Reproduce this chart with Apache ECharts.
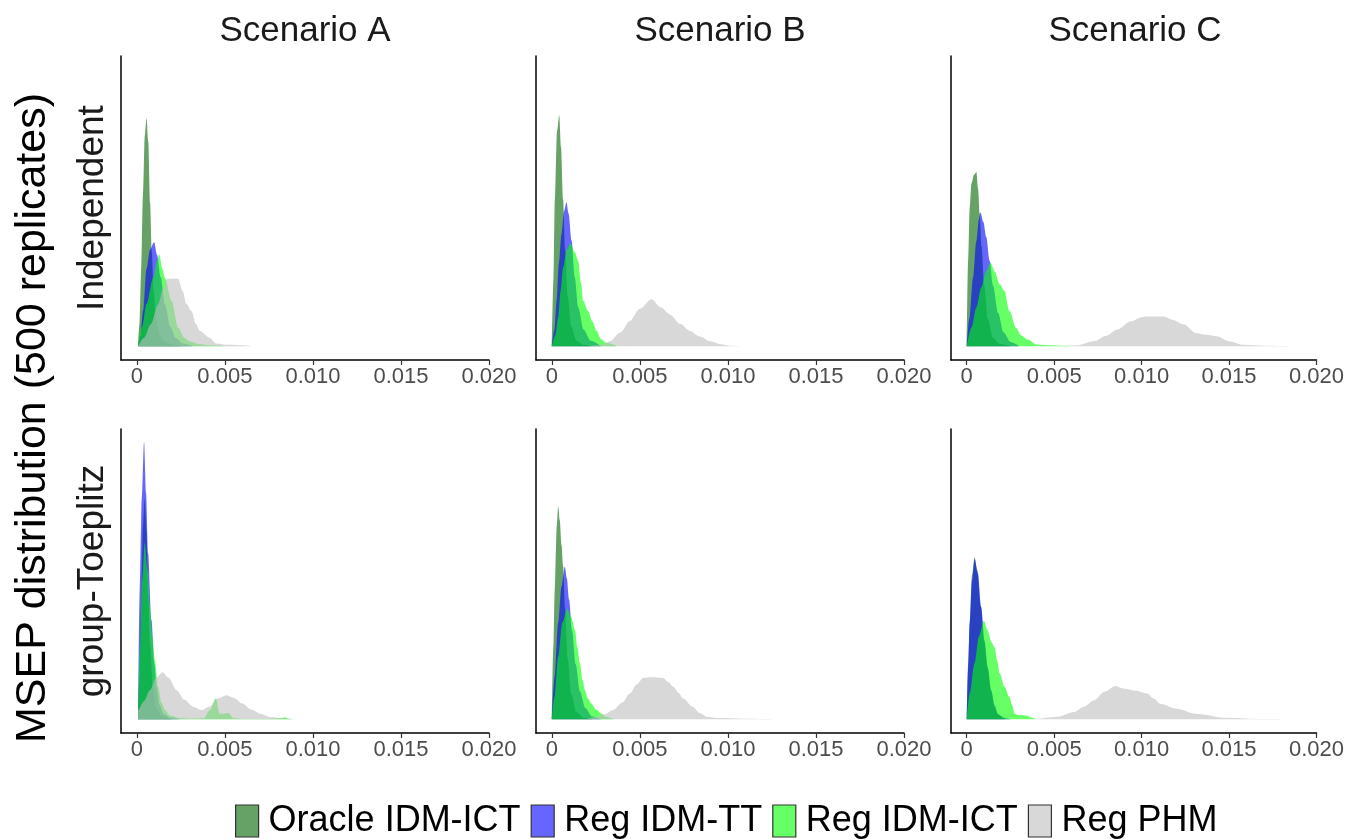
<!DOCTYPE html>
<html>
<head>
<meta charset="utf-8">
<script src="https://cdn.jsdelivr.net/npm/echarts@6/dist/echarts.min.js"></script>
<style>
  html, body { margin: 0; padding: 0; background: #fff; }
  #chart { width: 1347px; height: 839px; }
</style>
</head>
<body>
<div id="chart"></div>
<script>
// x values are MSEP in units of 0.001, y values are density (relative, shared scale)
var methods = ["Oracle IDM-ICT", "Reg IDM-TT", "Reg IDM-ICT", "Reg PHM"];
var scenarios = ["Scenario A", "Scenario B", "Scenario C"];
var designs = ["Independent", "group-Toeplitz"];
var tickValues = [0, 5, 10, 15, 20];
var tickLabels = ["0", "0.005", "0.010", "0.015", "0.020"];

// Independent, Scenario A
var indAOracle = [[0.07,0],[0.15,8],[0.25,28],[0.35,55],[0.45,76],[0.55,82.5],[0.65,74],[0.75,52],[0.85,34],[0.95,20],[1.1,9],[1.3,4],[1.6,1.5],[2.0,0.5],[2.5,0]];
var indATT = [[0.07,0],[0.2,4],[0.36,13],[0.55,28],[0.75,35],[0.98,37.6],[1.15,33],[1.35,25],[1.6,15],[1.9,7],[2.2,3],[2.6,1],[3.2,0]];
var indAICT = [[0.07,0],[0.3,7],[0.55,15.3],[0.93,24.8],[1.15,31],[1.27,33.3],[1.45,28],[1.59,24.8],[1.97,16.4],[2.35,6.7],[2.7,3],[3.0,1.8],[3.5,0.8],[4.15,0.3],[5,0]];
var indAPHM = [[0.07,0],[0.4,3],[0.8,8],[1.2,15],[1.5,21],[1.7,24.4],[2.0,24.4],[2.35,24.4],[2.6,20],[2.82,15.3],[3.1,12.7],[3.35,8],[3.58,5.5],[4.15,3],[4.5,1],[5.2,0.5],[6.0,0.3],[6.5,0]];

// Independent, Scenario B
var indBOracle = [[0,0],[0.1,25],[0.17,52.7],[0.3,78],[0.42,83.6],[0.52,72],[0.64,53],[0.75,35],[0.9,18],[1.1,7],[1.4,2],[1.8,0.5],[2.2,0]];
var indBTT = [[0,0],[0.15,6],[0.27,16.4],[0.4,30],[0.55,40.6],[0.7,49],[0.83,52.1],[0.95,48],[1.12,38.2],[1.3,25],[1.5,14],[1.8,6],[2.2,2],[2.8,0]];
var indBICT = [[0,0],[0.2,4],[0.36,10.3],[0.5,20],[0.64,28.5],[0.85,35],[1.06,37.2],[1.3,34],[1.5,30.9],[1.65,23],[1.78,16.4],[2.06,12.7],[2.3,9],[2.54,5.5],[2.8,2.5],[3.1,1.2],[3.7,0]];
var indBPHM = [[2.0,0],[2.6,0.3],[3.0,1],[3.3,1.8],[3.9,5],[4.43,9.1],[5.0,13.5],[5.66,17],[6.2,14],[6.7,11.5],[7.3,8],[7.84,5.5],[8.4,3.5],[9.0,1.8],[9.6,0.7],[10.1,0.2],[10.8,0]];

// Independent, Scenario C
var indCOracle = [[0,0],[0.08,31],[0.17,50],[0.27,58.9],[0.42,62],[0.55,63],[0.65,57],[0.74,48],[0.85,36],[1.0,22],[1.2,10],[1.5,3],[1.9,0.8],[2.5,0]];
var indCTT = [[0,0],[0.15,10],[0.36,24.8],[0.55,38],[0.7,46],[0.78,48.5],[0.95,45],[1.12,39.4],[1.31,30.9],[1.5,22],[1.8,12],[2.1,5],[2.5,1.5],[3.0,0]];
var indCICT = [[0,0],[0.27,6.7],[0.55,14],[0.83,21.2],[1.1,27],[1.36,30.3],[1.6,27],[1.88,22.4],[2.16,20],[2.44,12.7],[2.82,6.7],[3.1,4],[3.48,2.4],[4.0,0.6],[4.8,0.3],[5.9,0]];
var indCPHM = [[5.5,0],[6.3,0.3],[7.27,1.8],[8.0,3.8],[8.6,6],[9.4,9],[10.0,10.5],[10.3,10.7],[11.25,10.7],[11.8,9.5],[12.4,7.9],[13.1,4.8],[13.6,4.2],[14.3,3.6],[15.0,1.8],[15.8,0.5],[17,0.2],[18.9,0]];

// group-Toeplitz, Scenario A
var gtAOracle = [[0.07,0],[0.15,15],[0.25,42],[0.35,70],[0.45,80],[0.55,68],[0.65,45],[0.75,27],[0.9,12],[1.1,4],[1.4,1],[2.0,0]];
var gtATT = [[0.07,0],[0.17,48],[0.28,80],[0.41,100.5],[0.52,82],[0.64,60],[0.83,36],[1.0,20],[1.12,11.7],[1.3,5],[1.5,2],[1.9,0.5],[2.4,0]];
var gtAICT = [[0.07,0],[0.17,24],[0.3,50],[0.45,63.9],[0.6,54],[0.74,40.8],[0.88,30],[1.02,21.5],[1.21,11.7],[1.4,6],[1.59,3.3],[1.9,1.2],[2.4,0.4],[3.0,0.2],[3.8,0.3],[4.15,3.3],[4.49,7.5],[4.7,2],[4.95,2],[5.2,2.2],[5.5,0.3],[6.0,0.1],[7.5,0.1],[8.2,0.4],[8.4,0.7],[8.6,0.2],[8.8,0]];
var gtAPHM = [[0.07,0],[0.07,3.3],[0.4,6.5],[0.74,10.5],[1.1,15],[1.46,17],[1.8,15],[2.26,10.5],[2.7,7],[3.2,4.5],[3.68,3.3],[4.1,4.5],[4.6,7.5],[5.1,8.7],[5.5,7.8],[6.0,5.7],[6.5,3.5],[7.0,2],[7.6,0.8],[8.3,0.3],[9.0,0]];

// group-Toeplitz, Scenario B
var gtBOracle = [[0,0],[0.08,25],[0.17,47],[0.28,70],[0.36,77],[0.45,72],[0.55,63],[0.64,55.4],[0.75,40],[0.9,22],[1.1,9],[1.4,2.5],[1.8,0.5],[2.3,0]];
var gtBTT = [[0,0],[0.15,15],[0.36,34.9],[0.55,48],[0.74,55.2],[0.85,51],[0.98,43.3],[1.15,32],[1.35,20],[1.6,10],[1.9,4],[2.3,1],[2.8,0]];
var gtBICT = [[0,0],[0.15,8],[0.36,22.7],[0.6,35],[0.87,40],[1.1,37],[1.31,32.4],[1.45,26],[1.59,20.3],[1.75,14],[1.88,10.5],[2.05,7.5],[2.25,5.7],[2.5,3.5],[2.82,2],[3.1,0.8],[3.5,0]];
var gtBPHM = [[2.0,0],[2.4,0.7],[3.0,1.8],[3.48,3.3],[4.0,6],[4.43,9.3],[4.8,12.5],[5.2,15],[5.7,15.2],[6.3,15],[6.6,13.5],[6.9,11.7],[7.2,9.5],[7.46,7.5],[8.0,4.5],[8.4,2.2],[8.8,0.9],[9.5,0.4],[11,0.2],[13,0]];

// group-Toeplitz, Scenario C
var gtCOracle = [[0,0],[0.08,18],[0.17,35],[0.3,52],[0.45,58.5],[0.6,54],[0.8,41],[1.0,28],[1.2,18],[1.4,10],[1.6,4],[1.8,1.5],[2.2,0]];
var gtCTT = [[0,0],[0.08,20],[0.17,34.8],[0.3,50],[0.45,58],[0.64,52.7],[0.83,40.5],[1.02,28.5],[1.2,19],[1.4,10.5],[1.6,5],[1.78,2],[2.1,0.5],[2.5,0]];
var gtCICT = [[0,0],[0.17,9.3],[0.45,20.3],[0.7,30],[0.98,35.6],[1.2,32],[1.4,28],[1.59,26],[1.75,21],[1.88,16.6],[2.16,11.7],[2.44,8],[2.6,5],[2.73,2],[3.0,1.5],[3.4,1.3],[3.7,0.5],[4.0,0]];
var gtCPHM = [[4.0,0],[5.2,0.9],[6.14,2.6],[6.7,4.5],[7.27,6.8],[7.9,10],[8.5,12],[9.0,11],[9.7,10.3],[10.3,9.3],[10.7,7.5],[11.06,5.6],[12.0,3.8],[13.1,2],[14.8,0.5],[16.6,0.1],[19,0]];

var panels = [
  [indAOracle, indATT, indAICT, indAPHM],
  [indBOracle, indBTT, indBICT, indBPHM],
  [indCOracle, indCTT, indCICT, indCPHM],
  [gtAOracle, gtATT, gtAICT, gtAPHM],
  [gtBOracle, gtBTT, gtBICT, gtBPHM],
  [gtCOracle, gtCTT, gtCICT, gtCPHM]
];

var baseColors = ["#006400", "#0000ff", "#00ff00", "#bebebe"];
var keyColors = ["rgba(0,100,0,0.6)", "rgba(0,0,255,0.6)", "rgba(0,255,0,0.6)", "rgba(190,190,190,0.6)"];
var FONT = '"Liberation Sans", Arial, sans-serif';

var colLeft = [121, 536, 951];
var rowTop = [56, 429];
var grids = [], xAxes = [], yAxes = [], series = [];

panels.forEach(function (curves, i) {
  var row = Math.floor(i / 3), col = i % 3;
  grids.push({ left: colLeft[col], top: rowTop[row], width: 368, height: 304 });
  xAxes.push({
    type: "value", gridIndex: i, min: -0.9, max: 20,
    splitLine: { show: false },
    axisLine: { onZero: false, lineStyle: { color: "#000", width: 1.5 } },
    axisTick: { show: true, length: 5, customValues: tickValues, lineStyle: { color: "#333", width: 1.2 } },
    axisLabel: {
      customValues: tickValues, margin: 6, color: "#4d4d4d", fontSize: 22, fontFamily: FONT,
      formatter: function (v) { return tickLabels[tickValues.indexOf(v)]; }
    }
  });
  yAxes.push({
    type: "value", gridIndex: i, min: -5, max: 105,
    splitLine: { show: false }, axisTick: { show: false }, axisLabel: { show: false },
    axisLine: { show: true, onZero: false, lineStyle: { color: "#000", width: 1.5 } }
  });
  curves.forEach(function (pts, k) {
    series.push({
      name: methods[k], type: "line", xAxisIndex: i, yAxisIndex: i,
      data: pts, showSymbol: false, symbol: "none", smooth: 0.3, smoothMonotone: "x",
      silent: true,
      itemStyle: { color: keyColors[k] },
      lineStyle: { width: 0 },
      areaStyle: { color: baseColors[k], opacity: 0.6 }
    });
  });
});

var texts = [];
scenarios.forEach(function (s, c) {
  texts.push({ type: "text", x: colLeft[c] + 184, y: 31,
    style: { text: s, font: "35px " + FONT, fill: "#1a1a1a", textAlign: "center", textVerticalAlign: "middle" } });
});
designs.forEach(function (d, r) {
  texts.push({ type: "text", x: 93, y: rowTop[r] + 152, rotation: Math.PI / 2,
    style: { text: d, font: "37px " + FONT, fill: "#1a1a1a", textAlign: "center", textVerticalAlign: "middle" } });
});
texts.push({ type: "text", x: 33, y: 418, rotation: Math.PI / 2,
  style: { text: "MSEP distribution (500 replicates)", font: "43px " + FONT, fill: "#000", textAlign: "center", textVerticalAlign: "middle" } });

var chart = echarts.init(document.getElementById("chart"), null, { renderer: "canvas" });
chart.setOption({
  backgroundColor: "#fff",
  animation: false,
  grid: grids,
  xAxis: xAxes,
  yAxis: yAxes,
  legend: {
    top: 803, left: 235, icon: "rect", itemWidth: 23, itemHeight: 32, itemGap: 10, padding: 0,
    textStyle: { fontSize: 36, fontFamily: FONT, color: "#000", padding: [0, 0, 0, 5] },
    selectedMode: false,
    data: methods.map(function (m, k) {
      return { name: m, itemStyle: { color: keyColors[k], borderColor: "#333", borderWidth: 1.2 } };
    })
  },
  graphic: texts,
  series: series
});
</script>
</body>
</html>
